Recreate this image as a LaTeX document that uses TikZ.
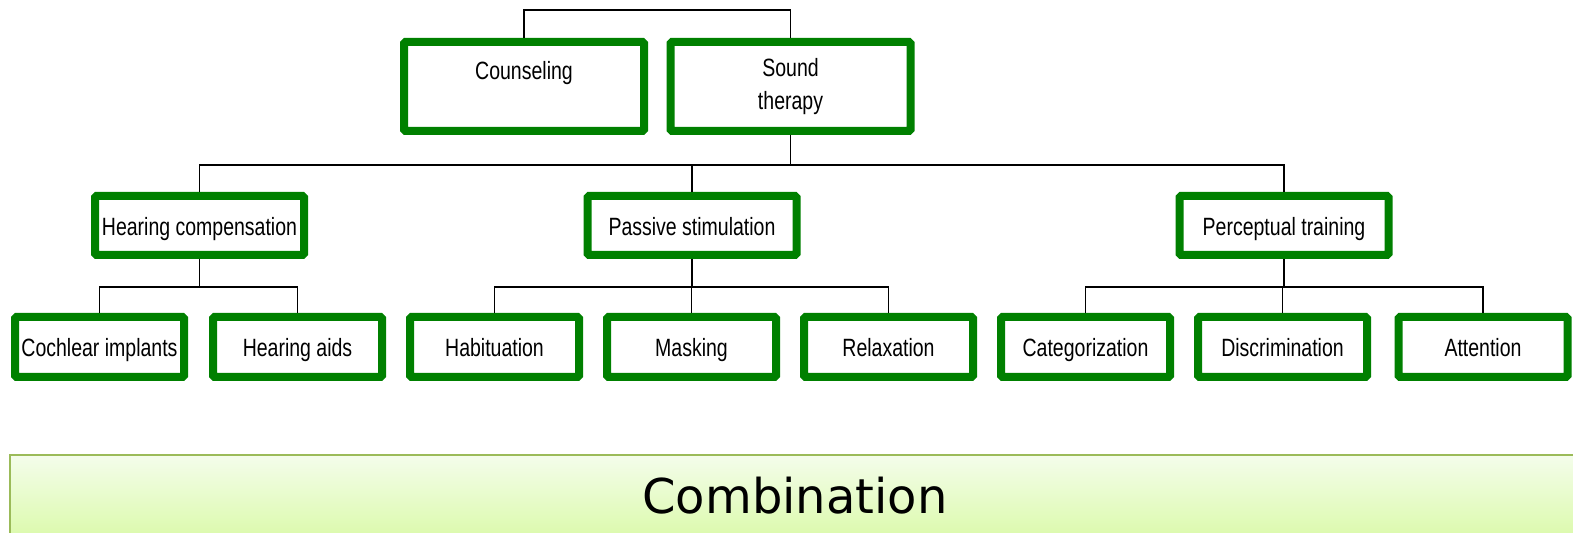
\documentclass[tikz,border=0pt]{standalone}
\usepackage{fontspec}
\setmainfont{Liberation Sans}[FakeStretch=0.78]
\newfontfamily\barfont{DejaVu Sans}
\usetikzlibrary{calc}
\definecolor{ink}{HTML}{000000}
\definecolor{tiergreen}{HTML}{008000}
\definecolor{barline}{HTML}{9BBB59}
\definecolor{bartop}{HTML}{F4FDEB}
\definecolor{barbot}{HTML}{DCFAAD}
\tikzset{
  font=\fontsize{12.5}{16.5}\selectfont,
  %
  tbox/.style={
    draw=tiergreen, line width=4pt, fill=white, rounded corners=0.8pt,
    inner sep=0pt, align=center, text=ink,
  },
  toptier/.style={tbox, minimum width=120pt,   minimum height=44.5pt},
  midtier/.style={tbox, minimum width=104.5pt, minimum height=29.5pt,
                  text height=11pt, text depth=1pt},
  lowtier/.style={tbox, minimum width=84.5pt,  minimum height=30pt,
                  text height=11pt, text depth=1pt},
  %
  wire/.style={draw=ink, line width=0.75pt},
  combobar/.style={draw=barline, line width=1pt, top color=bartop,
                   bottom color=barbot, minimum width=785pt,
                   minimum height=40.5pt, inner sep=0pt,
                   font=\barfont\fontsize{24}{28}\selectfont},
}

\begin{document}
\begin{tikzpicture}[x=0.5pt, y=-0.5pt]

  \useasboundingbox (0,0) rectangle (1573,533);
  \clip (0,0) rectangle (1573,533);

  \def\Ytop{86.5}   % first tier
  \def\Ymid{225.5}  % second tier
  \def\Ylow{347}    % third tier

  % --- first tier --------------------------------------------------------
  \node[toptier] (couns) at (524,\Ytop)   {Counseling\\\mbox{}};
  \node[toptier] (sound) at (790.5,\Ytop) {Sound\\therapy};

  % --- second tier -------------------------------------------------------
  \node[midtier] (hcomp) at (199.5,\Ymid) {Hearing compensation};
  \node[midtier] (pstim) at (692,\Ymid)   {Passive stimulation};
  \node[midtier] (ptrain) at (1284,\Ymid) {Perceptual training};

  % --- third tier --------------------------------------------------------
  \node[lowtier] (cochl) at (99.5,\Ylow)  {Cochlear implants};
  \node[lowtier] (haids) at (297.5,\Ylow) {Hearing aids};
  \node[lowtier] (habit) at (494.5,\Ylow) {Habituation};
  \node[lowtier] (mask)  at (691.5,\Ylow) {Masking};
  \node[lowtier] (relax) at (888.5,\Ylow) {Relaxation};
  \node[lowtier] (categ) at (1085.5,\Ylow) {Categorization};
  \node[lowtier] (discr) at (1282.5,\Ylow) {Discrimination};
  \node[lowtier] (atten) at (1483,\Ylow)  {Attention};

  % --- wiring ------------------------------------------------------------
  \draw[wire] (couns.north) -- ++(0,-28) -| (sound.north);

  \draw[wire] (sound.south) -- ++(0,30) coordinate (bus1);
  \draw[wire] (hcomp.north) |- (bus1) -| (ptrain.north);
  \draw[wire] (pstim.north) -- (pstim.north |- bus1);

  \draw[wire] (hcomp.south) -- ++(0,28) coordinate (bus2);
  \draw[wire] (cochl.north) |- (bus2) -| (haids.north);

  \draw[wire] (pstim.south) -- ++(0,28) coordinate (bus3);
  \draw[wire] (habit.north) |- (bus3) -| (relax.north);
  \draw[wire] (mask.north) -- (mask.north |- bus3);

  \draw[wire] (ptrain.south) -- ++(0,28) coordinate (bus4);
  \draw[wire] (categ.north) |- (bus4) -| (atten.north);
  \draw[wire] (discr.north) -- (discr.north |- bus4);

  % --- bottom bar --------------------------------------------------------
  \node[combobar] (combo) at (795,495.5) {Combination};

\end{tikzpicture}
\end{document}
